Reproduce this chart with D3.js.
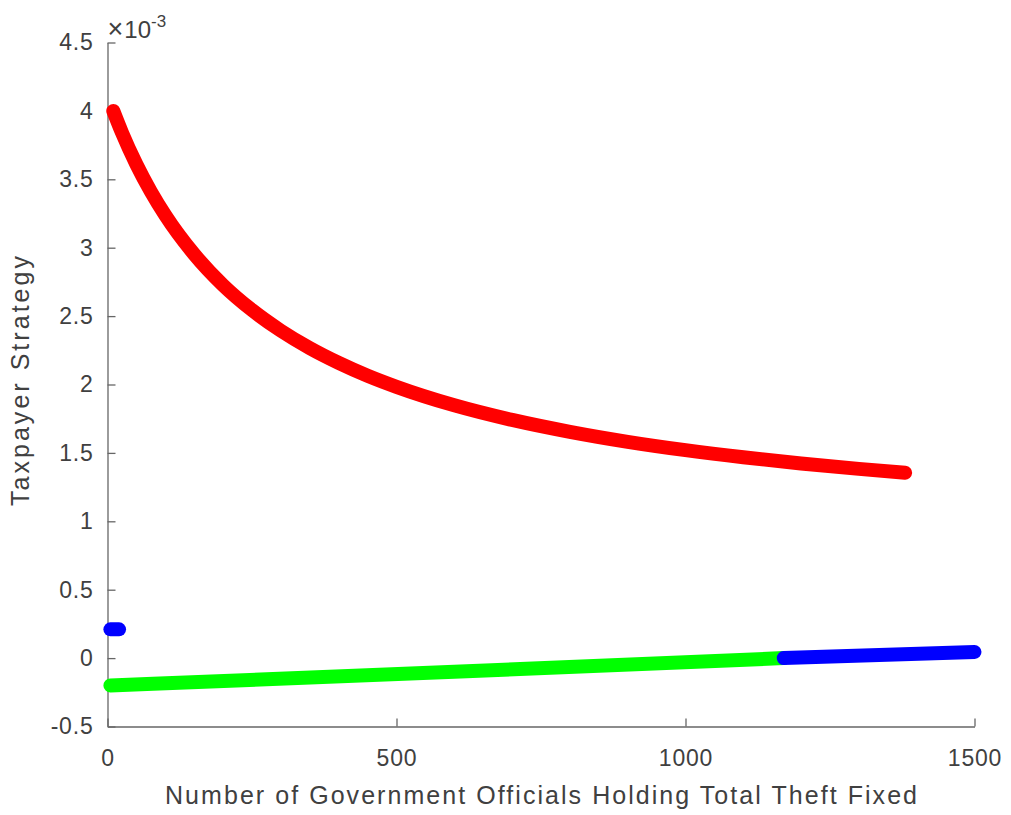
<!DOCTYPE html>
<html>
<head>
<meta charset="utf-8">
<script src="https://cdn.jsdelivr.net/npm/d3@7"></script>
<style>
  html, body { margin: 0; padding: 0; background: #fff; }
  svg { display: block; font-family: "Liberation Sans", Arial, sans-serif; }
</style>
</head>
<body>
<svg id="chart" width="1011" height="815"></svg>
<script>
// Officials count (x) and taxpayer strategy values in units of 1e-3 (y)
const redN      = [10, 25, 50, 75, 100, 150, 200, 250, 300, 350, 400, 450, 500, 600, 700, 800, 900, 1000, 1100, 1200, 1300, 1380];
const redVal    = [4.000, 3.841, 3.609, 3.410, 3.237, 2.952, 2.726, 2.544, 2.393, 2.266, 2.158, 2.064, 1.983, 1.848, 1.741, 1.654, 1.581, 1.520, 1.468, 1.423, 1.383, 1.355];
const greenN    = [5, 600, 1170];
const greenVal  = [-0.20, -0.10, 0.00];
const blueN     = [1170, 1500];
const blueVal   = [0.00, 0.044];
const blueDotN  = [5, 20];
const blueDotVal= [0.21, 0.21];

const xTicks = [0, 500, 1000, 1500];
const yTicks = [-0.5, 0, 0.5, 1, 1.5, 2, 2.5, 3, 3.5, 4, 4.5];

const svg = d3.select("#chart");
const x = d3.scaleLinear().domain([0, 1500]).range([107.5, 974.5]);
const y = d3.scaleLinear().domain([-0.5, 4.5]).range([726.5, 42.5]);

const axisColor = "#666666";
const textColor = "#404040";

// Axes (box off, ticks pointing inward)
const gx = svg.append("g")
  .attr("transform", `translate(0,${y(-0.5)})`)
  .call(d3.axisBottom(x).tickValues(xTicks).tickSizeInner(-8).tickSizeOuter(0)
        .tickPadding(20).tickFormat(d => String(d)));
const gy = svg.append("g")
  .attr("transform", `translate(${x(0)},0)`)
  .call(d3.axisLeft(y).tickValues(yTicks).tickSizeInner(-8).tickSizeOuter(0)
        .tickPadding(14).tickFormat(d => String(d)));

[gx, gy].forEach(g => {
  g.select(".domain").attr("stroke", axisColor).attr("stroke-width", 1.3);
  g.selectAll(".tick line").attr("stroke", axisColor).attr("stroke-width", 1.3);
  g.selectAll(".tick text").attr("fill", textColor).attr("font-size", 23)
    .attr("letter-spacing", 0.8)
    .attr("font-family", "'Liberation Sans', Arial, sans-serif");
});
gx.selectAll(".tick text").attr("dy", "0.71em").attr("y", 23);

// Exponent multiplier above the y axis
const expo = svg.append("text")
  .attr("x", x(0)).attr("y", 38)
  .attr("fill", textColor).attr("font-size", 24);
expo.append("tspan").attr("font-size", 27).text("\u00d7");
expo.append("tspan").attr("dx", 1).text("10");
expo.append("tspan").attr("font-size", 17).attr("dy", -11).text("-3");

// Axis titles
svg.append("text")
  .attr("x", 541).attr("y", 804)
  .attr("text-anchor", "middle")
  .attr("fill", textColor).attr("font-size", 25)
  .attr("textLength", 752).attr("lengthAdjust", "spacing")
  .text("Number of Government Officials Holding Total Theft Fixed");

svg.append("text")
  .attr("transform", "translate(29,381) rotate(-90)")
  .attr("text-anchor", "middle")
  .attr("fill", textColor).attr("font-size", 25)
  .attr("textLength", 250).attr("lengthAdjust", "spacing")
  .text("Taxpayer Strategy");

// Series
const line = d3.line().x(d => x(d[0])).y(d => y(d[1])).curve(d3.curveMonotoneX);
function draw(ns, vs, color) {
  svg.append("path")
    .datum(d3.zip(ns, vs))
    .attr("d", line)
    .attr("fill", "none")
    .attr("stroke", color)
    .attr("stroke-width", 14)
    .attr("stroke-linecap", "round")
    .attr("stroke-linejoin", "round");
}
draw(greenN, greenVal, "#00ff00");
draw(blueN, blueVal, "#0000ff");
draw(redN, redVal, "#ff0000");
draw(blueDotN, blueDotVal, "#0000ff");
</script>
</body>
</html>
